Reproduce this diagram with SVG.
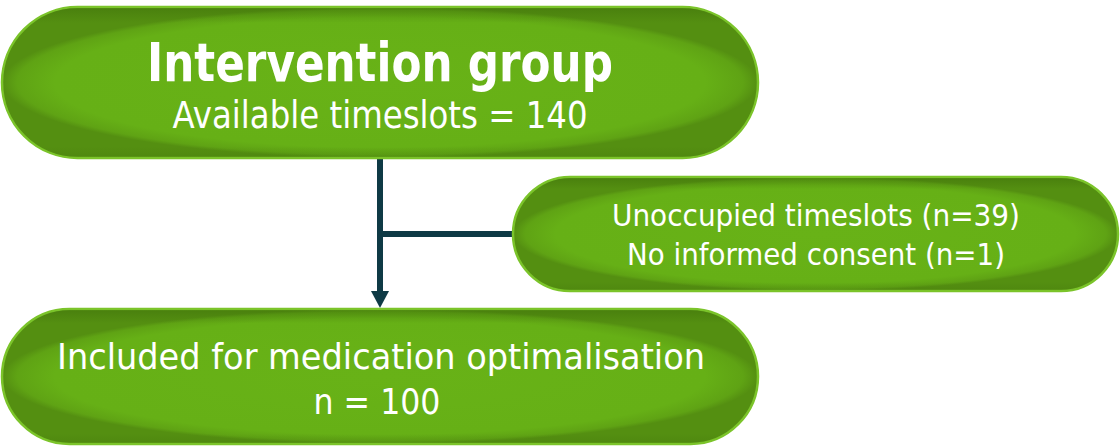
<svg xmlns="http://www.w3.org/2000/svg" width="1120" height="446" viewBox="0 0 1120 446">
<style>
.box{stroke:#7bc42a;stroke-width:2.5}
.t{font-family:"DejaVu Sans",Verdana,sans-serif;fill:#ffffff;text-anchor:middle}
.b{font-weight:bold}
.conn{stroke:#0e3a45;stroke-width:6;fill:none}
</style>
<defs>
<radialGradient id="g" cx="0.5" cy="0.5" r="0.5">
<stop offset="0" stop-color="#68b217"/>
<stop offset="0.86" stop-color="#66b016"/>
<stop offset="0.96" stop-color="#5fa314"/>
<stop offset="1" stop-color="#548f11"/>
</radialGradient>
<linearGradient id="v" x1="0" y1="0" x2="0" y2="1">
<stop offset="0" stop-color="#3d6e0a" stop-opacity="0.45"/>
<stop offset="0.1" stop-color="#3d6e0a" stop-opacity="0"/>
<stop offset="0.93" stop-color="#3d6e0a" stop-opacity="0"/>
<stop offset="1" stop-color="#3d6e0a" stop-opacity="0.2"/>
</linearGradient>
</defs>
<g id="connectors">
<path class="conn" d="M380,158 V292"/>
<path class="conn" d="M380,234 H514"/>
<polygon points="371,291 389,291 380,308" fill="#0e3a45"/>
</g>
<g id="intervention">
<rect class="box" x="2" y="7" width="756" height="151" rx="75.5" fill="url(#g)"/>
<rect x="3" y="8" width="754" height="149" rx="74.5" fill="url(#v)"/>
<text class="t b" x="380" y="81" font-size="53" textLength="466" lengthAdjust="spacingAndGlyphs">Intervention group</text>
<text class="t" x="380" y="128" font-size="37" textLength="415" lengthAdjust="spacingAndGlyphs">Available timeslots = 140</text>
</g>
<g id="excluded">
<rect class="box" x="513" y="177" width="605" height="114" rx="57" fill="url(#g)"/>
<rect x="514" y="178" width="603" height="112" rx="56" fill="url(#v)"/>
<text class="t" x="816" y="226" font-size="31" textLength="408" lengthAdjust="spacingAndGlyphs">Unoccupied timeslots (n=39)</text>
<text class="t" x="816" y="265" font-size="31" textLength="378" lengthAdjust="spacingAndGlyphs">No informed consent (n=1)</text>
</g>
<g id="included">
<rect class="box" x="2" y="309" width="756" height="135" rx="67.5" fill="url(#g)"/>
<rect x="3" y="310" width="754" height="133" rx="66.5" fill="url(#v)"/>
<text class="t" x="381" y="369" font-size="35" textLength="648" lengthAdjust="spacingAndGlyphs">Included for medication optimalisation</text>
<text class="t" x="377" y="414" font-size="35" textLength="127" lengthAdjust="spacingAndGlyphs">n = 100</text>
</g>
</svg>
